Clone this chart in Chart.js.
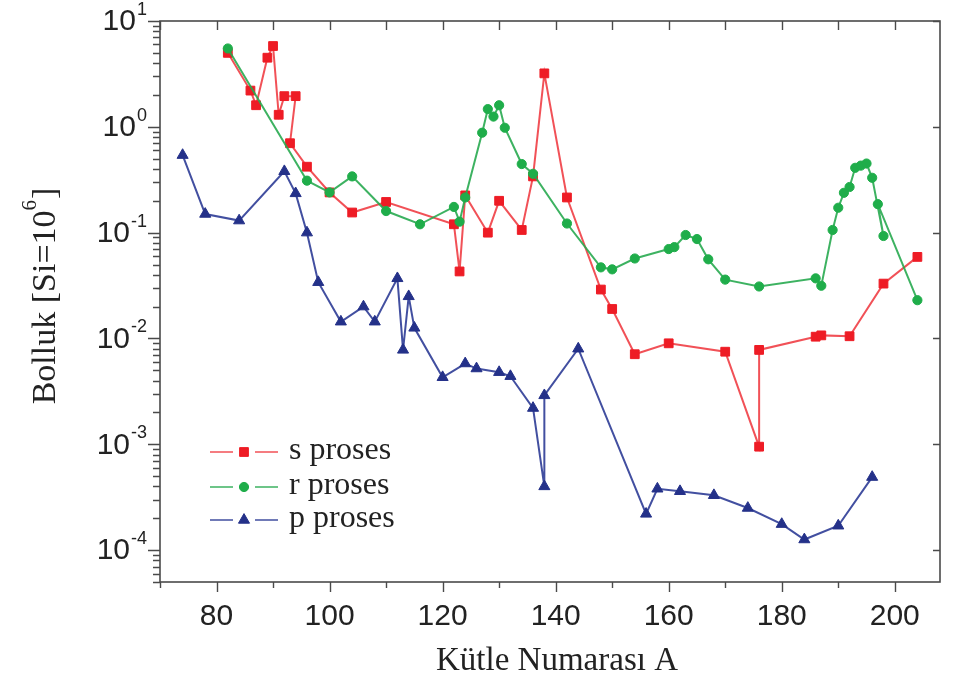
<!DOCTYPE html>
<html>
<head>
<meta charset="utf-8">
<script src="https://cdn.jsdelivr.net/npm/chart.js@4.4.0/dist/chart.umd.min.js"></script>
<style>
html,body{margin:0;padding:0;background:#ffffff;}
#wrap{width:956px;height:686px;position:relative;}
</style>
</head>
<body>
<div id="wrap"><canvas id="c" width="956" height="686"></canvas></div>
<script>
// ---- data ----
const seriesNames = ['s proses', 'r proses', 'p proses'];

const sMass  = [82,86,87,89,90,91,92,94,93,96,100,104,110,122,123,124,128,130,134,136,138,142,148,150,154,160,170,176,176,186,187,192,198,204];
const sAbund = [5.0,2.2,1.6,4.5,5.8,1.3,1.95,1.95,0.70,0.42,0.24,0.155,0.195,0.12,0.043,0.225,0.10,0.20,0.106,0.34,3.2,0.215,0.029,0.019,0.0071,0.009,0.0075,0.00095,0.0078,0.0104,0.0107,0.0105,0.033,0.059];

const rMass  = [82,96,100,104,110,116,122,123,124,127,128,129,130,131,134,136,142,148,150,154,160,161,163,165,167,170,176,186,187,189,190,191,192,193,194,195,196,198,197,204];
const rAbund = [5.5,0.31,0.24,0.34,0.16,0.12,0.175,0.127,0.215,0.88,1.47,1.25,1.6,0.98,0.445,0.36,0.122,0.047,0.045,0.057,0.07,0.073,0.095,0.087,0.056,0.036,0.031,0.037,0.0315,0.106,0.172,0.238,0.27,0.41,0.43,0.45,0.33,0.093,0.186,0.023];

const pMass  = [74,78,84,92,94,96,98,102,106,108,112,113,114,115,120,124,126,130,132,136,138,138,144,156,158,162,168,174,180,184,190,196];
const pAbund = [0.54,0.15,0.13,0.38,0.235,0.10,0.034,0.0144,0.020,0.0144,0.037,0.0078,0.025,0.0126,0.0043,0.0058,0.0052,0.0048,0.0044,0.0022,0.0004,0.0029,0.008,0.00022,0.00038,0.00036,0.00033,0.00025,0.000176,0.000126,0.00017,0.00049];

const xTickLabels = [80,100,120,140,160,180,200];
const yTickExponents = [1,0,-1,-2,-3,-4];
const xAxisTitle = 'Kütle Numarası A';
const yAxisTitle = 'Bolluk [Si=10';
const yAxisTitleSup = '6';
const yAxisTitleEnd = ']';

// ---- chart ----
function pts(xs, ys){ return xs.map((x,i)=>({x:x, y:ys[i]})); }

const SANS = '"Liberation Sans", Arial, sans-serif';
const SERIF = '"Liberation Serif", "Times New Roman", serif';
const AXIS = '#4a4a4a';

const styles = [
  {line:'rgba(238,50,58,0.85)', fill:'#ee1c25', shape:'rect', r:6.2},
  {line:'rgba(40,170,80,0.9)', fill:'#1fad4a', shape:'circle', r:4.6},
  {line:'rgba(45,60,150,0.9)', fill:'#243189', shape:'triangle', r:6.4}
];

const frameAndText = {
  id:'frameAndText',
  afterDraw(chart){
    const ctx = chart.ctx, a = chart.chartArea;
    const xs = chart.scales.x, ys = chart.scales.y;
    ctx.save();
    ctx.strokeStyle = AXIS; ctx.lineWidth = 1.6;
    ctx.strokeRect(a.left, a.top, a.right - a.left, a.bottom - a.top);
    ctx.lineWidth = 1.4;
    ctx.beginPath();
    // x ticks bottom (outward) and top (inward)
    for (let v = 70; v <= xs.max; v += 10){
      const px = Math.round(xs.getPixelForValue(v)) + 0.5;
      const major = (v % 20 === 0);
      const L = major ? 10 : 6;
      ctx.moveTo(px, a.bottom); ctx.lineTo(px, a.bottom + L);
      ctx.moveTo(px, a.top); ctx.lineTo(px, a.top + 9);
    }
    // y ticks left (outward) and right (inward)
    for (let k = -5; k <= 1; k++){
      for (let m = 1; m <= 9; m++){
        const v = m * Math.pow(10, k);
        if (v < ys.min * 0.999 || v > ys.max * 1.001) continue;
        const py = Math.round(ys.getPixelForValue(v)) + 0.5;
        const L = (m === 1) ? 12 : 7;
        ctx.moveTo(a.left, py); ctx.lineTo(a.left - L, py);
        if (m === 1){ ctx.moveTo(a.right, py); ctx.lineTo(a.right - 7, py); }
      }
    }
    ctx.stroke();

    // y tick labels with superscript exponents
    ctx.fillStyle = '#222';
    ctx.textBaseline = 'middle';
    yTickExponents.forEach(e => {
      const py = ys.getPixelForValue(Math.pow(10, e));
      const supTxt = String(e);
      ctx.font = '18px ' + SANS;
      const w2 = ctx.measureText(supTxt).width;
      const supX = 147 - w2;
      ctx.textAlign = 'left';
      ctx.fillText(supTxt, supX, py - 11);
      ctx.font = '30px ' + SANS;
      ctx.textAlign = 'right';
      ctx.fillText('10', supX - 1, py + 1);
    });

    // x axis title
    ctx.font = '33px ' + SERIF;
    ctx.textAlign = 'center';
    ctx.textBaseline = 'middle';
    ctx.fillStyle = '#222';
    ctx.fillText(xAxisTitle, (a.left + a.right) / 2 + 7, 661);

    // y axis title (rotated)
    ctx.save();
    ctx.translate(46, (a.top + a.bottom) / 2 - 5);
    ctx.rotate(-Math.PI / 2);
    ctx.font = '34px ' + SERIF;
    const wA = ctx.measureText(yAxisTitle).width;
    ctx.font = '21px ' + SERIF;
    const wS = ctx.measureText(yAxisTitleSup).width;
    ctx.font = '34px ' + SERIF;
    const wE = ctx.measureText(yAxisTitleEnd).width;
    let x0 = -(wA + wS + wE) / 2;
    ctx.textAlign = 'left';
    ctx.fillText(yAxisTitle, x0, 0);
    ctx.font = '21px ' + SERIF;
    ctx.fillText(yAxisTitleSup, x0 + wA, -16);
    ctx.font = '34px ' + SERIF;
    ctx.fillText(yAxisTitleEnd, x0 + wA + wS + 1, 0);
    ctx.restore();

    // legend
    const rowsY = [452, 487, 520];
    seriesNames.forEach((name, i) => {
      const st = styles[i], y = rowsY[i];
      ctx.strokeStyle = st.line; ctx.lineWidth = 1.6;
      ctx.beginPath();
      ctx.moveTo(210, y); ctx.lineTo(233, y);
      ctx.moveTo(255, y); ctx.lineTo(278, y);
      ctx.stroke();
      ctx.fillStyle = st.fill; ctx.strokeStyle = st.fill; ctx.lineWidth = 1;
      Chart.helpers.drawPoint(ctx, {pointStyle: st.shape, radius: st.r, borderWidth: 1, rotation: 0}, 244, y);
      ctx.fillStyle = '#222';
      ctx.font = '32px ' + SERIF;
      ctx.textAlign = 'left';
      ctx.textBaseline = 'middle';
      ctx.fillText(name, 289, y - 1);
    });
    ctx.restore();
  }
};

function mkDataset(i, xsArr, ysArr, order){
  const st = styles[i];
  return {
    label: seriesNames[i],
    data: pts(xsArr, ysArr),
    borderColor: st.line,
    borderWidth: 2,
    backgroundColor: st.fill,
    pointBackgroundColor: st.fill,
    pointBorderColor: st.fill,
    pointBorderWidth: 1,
    pointStyle: st.shape,
    pointRadius: st.r,
    tension: 0,
    fill: false,
    order: order
  };
}

new Chart(document.getElementById('c'), {
  type: 'line',
  data: {
    datasets: [
      mkDataset(0, sMass, sAbund, 1),
      mkDataset(1, rMass, rAbund, 0),
      mkDataset(2, pMass, pAbund, 2)
    ]
  },
  options: {
    responsive: false,
    animation: false,
    events: [],
    layout: { padding: { top: 21, right: 16, left: 0, bottom: 0 } },
    plugins: { legend: { display: false }, tooltip: { enabled: false } },
    scales: {
      x: {
        type: 'linear', min: 70, max: 208,
        grid: { display: false, drawTicks: false },
        border: { display: false },
        afterFit(s){ s.height = 104; },
        ticks: {
          stepSize: 10, includeBounds: false, autoSkip: false, maxRotation: 0,
          padding: 17,
          color: '#222',
          font: { family: SANS, size: 30 },
          callback(v){ return xTickLabels.includes(v) ? String(v) : ''; }
        }
      },
      y: {
        type: 'logarithmic', min: 5e-5, max: 10,
        grid: { display: false, drawTicks: false },
        border: { display: false },
        afterFit(s){ s.width = 160; },
        ticks: { display: false }
      }
    }
  },
  plugins: [frameAndText]
});
</script>
</body>
</html>
